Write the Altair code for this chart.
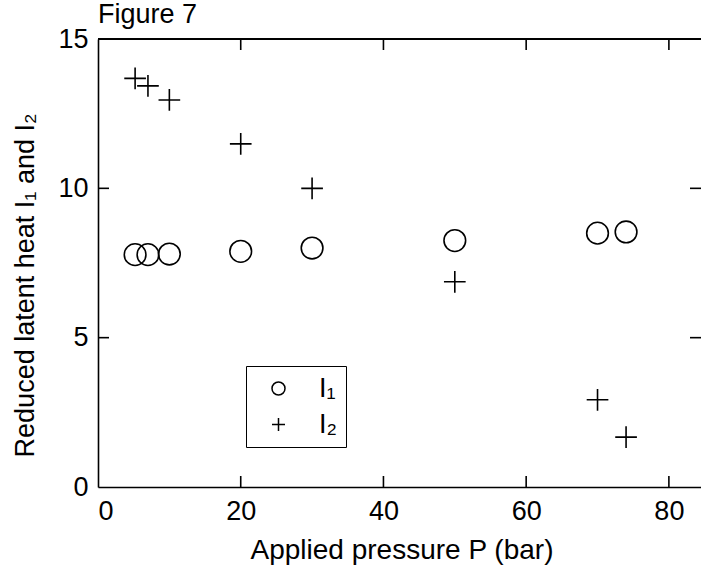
import altair as alt
import pandas as pd

# ---- data ----
pressure = [5.2, 7, 10, 20, 30, 50, 70, 74]
l1_values = [7.78, 7.78, 7.80, 7.89, 8.00, 8.25, 8.50, 8.54]
l2_values = [13.68, 13.43, 12.96, 11.49, 10.00, 6.87, 2.92, 1.67]
series_names = ["I\u2081", "I\u2082"]
x_tick_values = [20, 40, 60, 80]
y_tick_values = [5, 10]
x_label_values = [0, 20, 40, 60, 80]
y_label_values = [0, 5, 10, 15]
figure_title = ["Figure 7"]

FONT = "Liberation Sans"
W, H = 603, 448
TICK = 11
LW = 1.6

df = pd.DataFrame({
    "P": pressure + pressure,
    "value": l1_values + l2_values,
    "series": [series_names[0]] * len(pressure) + [series_names[1]] * len(pressure),
})
xt = pd.DataFrame({"P": x_tick_values})
yt = pd.DataFrame({"value": y_tick_values})
tt = pd.DataFrame({"label": figure_title})

xscale = alt.Scale(domain=[0, 84.5], nice=False, zero=False)
yscale = alt.Scale(domain=[0, 15], nice=False, zero=False)

x_axis = alt.Axis(
    values=x_label_values, title="Applied pressure P (bar)", grid=False,
    domain=True, domainColor="black", domainWidth=LW,
    ticks=False, tickSize=0, labelPadding=11,
    labelFont=FONT, labelFontSize=27, labelColor="black",
    titleFont=FONT, titleFontSize=28, titleColor="black", titleFontWeight="normal",
    titleY=71, titleX=W / 2 + 2, titleBaseline="alphabetic",
)
y_axis = alt.Axis(
    values=y_label_values, title="Reduced latent heat I\u2081 and I\u2082", grid=False,
    domain=True, domainColor="black", domainWidth=LW,
    ticks=False, tickSize=0, labelPadding=10,
    labelFont=FONT, labelFontSize=27, labelColor="black",
    titleFont=FONT, titleFontSize=27, titleColor="black", titleFontWeight="normal",
    titleAngle=270, titleX=-65, titleY=246, titleAlign="center", titleBaseline="alphabetic",
)

points = alt.Chart(df).mark_point(filled=False, size=470, strokeWidth=LW, opacity=1).encode(
    x=alt.X("P:Q", scale=xscale, axis=x_axis),
    y=alt.Y("value:Q", scale=yscale, axis=y_axis),
    color=alt.value("black"),
    shape=alt.Shape(
        "series:N",
        scale=alt.Scale(domain=series_names, range=["circle", "M-1,0L1,0M0,-1L0,1"]),
        legend=alt.Legend(
            title=None, orient="none", legendX=148, legendY=327,
            strokeColor="black", fillColor="white", padding=9, rowPadding=8,
            symbolSize=169, symbolStrokeWidth=1.5, symbolStrokeColor="black",
            symbolOffset=10, labelOffset=27,
            labelFont=FONT, labelFontSize=27, labelColor="black",
        ),
    ),
)

bottom_ticks = alt.Chart(xt).mark_rule(color="black", strokeWidth=LW).encode(
    x=alt.X("P:Q", scale=xscale, axis=x_axis), y=alt.value(H), y2=alt.value(H - TICK)
)
top_ticks = alt.Chart(xt).mark_rule(color="black", strokeWidth=LW).encode(
    x=alt.X("P:Q", scale=xscale, axis=x_axis), y=alt.value(0), y2=alt.value(TICK)
)
left_ticks = alt.Chart(yt).mark_rule(color="black", strokeWidth=LW).encode(
    y=alt.Y("value:Q", scale=yscale, axis=y_axis), x=alt.value(0), x2=alt.value(TICK)
)
right_ticks = alt.Chart(yt).mark_rule(color="black", strokeWidth=LW).encode(
    y=alt.Y("value:Q", scale=yscale, axis=y_axis), x=alt.value(W), x2=alt.value(W - TICK)
)
top_line = alt.Chart(xt).mark_rule(color="black", strokeWidth=LW).encode(
    x=alt.value(0), x2=alt.value(W), y=alt.value(0)
)
title_text = alt.Chart(tt).mark_text(
    align="left", baseline="alphabetic", font=FONT, fontSize=27, color="black"
).encode(x=alt.value(0), y=alt.value(-16), text="label:N")

chart = alt.layer(
    top_line, bottom_ticks, top_ticks, left_ticks, right_ticks, points, title_text
).properties(
    width=W, height=H,
    autosize=alt.AutoSizeParams(type="none"),
    padding={"left": 98, "top": 39, "right": 0, "bottom": 86},
).configure_view(stroke=None).configure(background="white")

chart.save("out.html", embed_options={"renderer": "svg", "actions": False})
